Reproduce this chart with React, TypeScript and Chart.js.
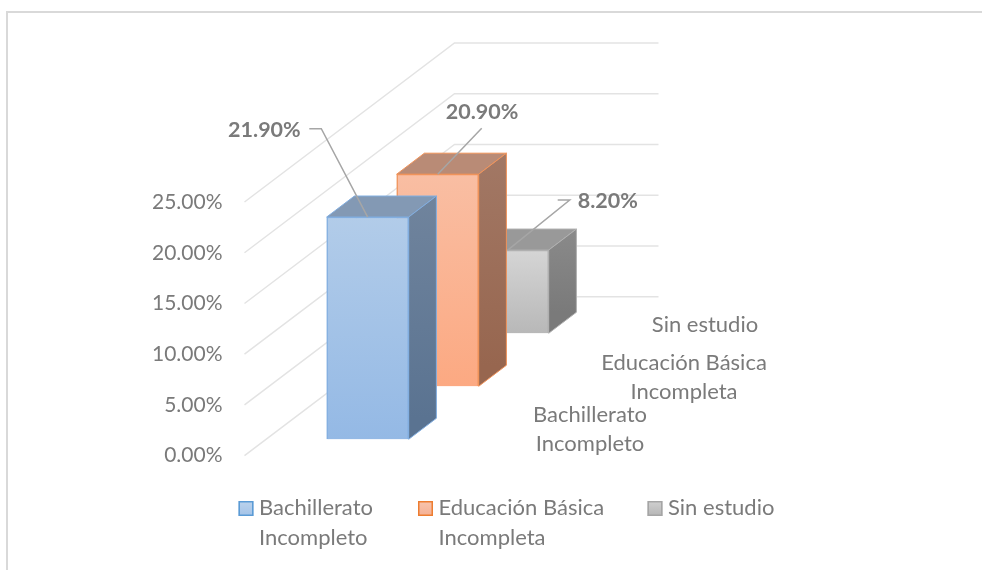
import React, { useEffect, useRef } from "react";
import { Chart, registerables } from "chart.js";

Chart.register(...registerables);

const categories = ["Bachillerato Incompleto", "Educación Básica Incompleta", "Sin estudio"];
const categoryLines = [["Bachillerato", "Incompleto"], ["Educación Básica", "Incompleta"], ["Sin estudio"]];
const values = [21.9, 20.9, 8.2];
const valueLabels = ["21.90%", "20.90%", "8.20%"];
const yMax = 25;
const yStep = 5;

const FONT = "Lato";
const TEXT = "#7a7a7a";
const SIZE = 21;
const LABEL_SIZE = 22;
const BOLD_SIZE = 21.5;

const palette = [
  { front: ["#b2cce9", "#94b9e5"], edge: "#82aee0", top: "#8399b4", side: ["#70849d", "#5a7391"], swatch: ["#bcd3ec", "#a3c3e8"], line: "#5b9bd5" },
  { front: ["#f9bea3", "#fca982"], edge: "#f0935a", top: "#b98b76", side: ["#a27865", "#97664f"], swatch: ["#f8c5ae", "#f5b093"], line: "#ed7d31" },
  { front: ["#d5d5d5", "#b8b8b8"], edge: "#b0b0b0", top: "#999999", side: ["#8a8a8a", "#7a7a7a"], swatch: ["#d0d0d0", "#b5b5b5"], line: "#a5a5a5" },
];

const SLOT_DX = 70;
const SLOT_DY = 53;
const GAP = 0.31;
const DEPTH_DX = 27.7;
const DEPTH_DY = 21;
const BACK_WIDTH = 204;

const leaders = [
  [[-46.4, -88.3], [-58.4, -88.3]],
  [[44, -46]],
  [[62, -50], [50, -50]],
];
const labelAnchors: { dx: number; dy: number; align: CanvasTextAlign }[] = [
  { dx: -67, dy: -86.5, align: "right" },
  { dx: 44.3, dy: -62.5, align: "center" },
  { dx: 70, dy: -48.5, align: "left" },
];
const categoryOffsets = [[107.5, 0], [131.5, 1], [82.5, 2]];
const legendPositions = [238.5, 418, 647.5];

const vgrad = (ctx: CanvasRenderingContext2D, y0: number, y1: number, c: string[]) => {
  const g = ctx.createLinearGradient(0, y0, 0, y1);
  g.addColorStop(0, c[0]);
  g.addColorStop(1, c[1]);
  return g;
};

const depthOf = (i: number) => ({
  dx: (i + GAP) * SLOT_DX,
  dy: -(i + GAP) * SLOT_DY,
});

const box3d = {
  id: "box3d",
  beforeDatasetsDraw(chart: any) {
    const { ctx, chartArea, scales } = chart;
    const ticks = scales.y.getTicks();
    const back = 3;
    ctx.save();
    ctx.strokeStyle = "#e3e3e3";
    ctx.lineWidth = 1.5;
    ticks.forEach((t: any) => {
      const y = scales.y.getPixelForValue(t.value);
      const bx = chartArea.left + back * SLOT_DX;
      const by = y - back * SLOT_DY;
      ctx.beginPath();
      ctx.moveTo(chartArea.left, y);
      ctx.lineTo(bx, by);
      ctx.lineTo(bx + BACK_WIDTH, by);
      ctx.stroke();
    });
    ctx.restore();
  },
  beforeDatasetDraw(chart: any, args: any) {
    const { ctx } = chart;
    const i = args.index;
    const el = args.meta.data[0];
    const { dx, dy } = depthOf(i);
    const p = palette[i];
    ctx.save();
    ctx.translate(dx, dy);
    const l = el.x - el.width / 2;
    const r = el.x + el.width / 2;
    const top = el.y;
    const base = el.base;
    ctx.lineWidth = 1;
    ctx.strokeStyle = p.edge;
    ctx.fillStyle = p.top;
    ctx.beginPath();
    ctx.moveTo(l, top);
    ctx.lineTo(l + DEPTH_DX, top - DEPTH_DY);
    ctx.lineTo(r + DEPTH_DX, top - DEPTH_DY);
    ctx.lineTo(r, top);
    ctx.closePath();
    ctx.fill();
    ctx.stroke();
    ctx.fillStyle = vgrad(ctx, top - DEPTH_DY, base - DEPTH_DY, p.side);
    ctx.beginPath();
    ctx.moveTo(r, top);
    ctx.lineTo(r + DEPTH_DX, top - DEPTH_DY);
    ctx.lineTo(r + DEPTH_DX, base - DEPTH_DY);
    ctx.lineTo(r, base);
    ctx.closePath();
    ctx.fill();
    ctx.stroke();
  },
  afterDatasetDraw(chart: any) {
    chart.ctx.restore();
  },
  afterDatasetsDraw(chart: any) {
    const { ctx, chartArea } = chart;
    ctx.save();
    values.forEach((_, i) => {
      const el = chart.getDatasetMeta(i).data[0];
      const { dx, dy } = depthOf(i);
      const ax = el.x + dx;
      const ay = el.y + dy;
      ctx.strokeStyle = "#a6a6a6";
      ctx.lineWidth = 1.5;
      ctx.beginPath();
      const pts = [...leaders[i]];
      ctx.moveTo(ax, ay);
      pts.forEach((q) => ctx.lineTo(ax + q[0], ay + q[1]));
      ctx.stroke();
      const a = labelAnchors[i];
      ctx.font = `bold ${BOLD_SIZE}px ${FONT}`;
      ctx.fillStyle = TEXT;
      ctx.textAlign = a.align;
      ctx.textBaseline = "middle";
      ctx.fillText(valueLabels[i], ax + a.dx, ay + a.dy);
    });
    ctx.font = `${LABEL_SIZE}px ${FONT}`;
    ctx.fillStyle = TEXT;
    ctx.textBaseline = "middle";
    categoryLines.forEach((lines, i) => {
      const cx = chartArea.right + (i + 0.5) * SLOT_DX + categoryOffsets[i][0];
      const cy = chartArea.bottom - (i + 0.5) * SLOT_DY + categoryOffsets[i][1];
      ctx.textAlign = "center";
      lines.forEach((t, k) => {
        ctx.fillText(t, cx, cy + (k - (lines.length - 1) / 2) * 29.5);
      });
    });
    categoryLines.forEach((lines, i) => {
      const x = legendPositions[i];
      const y = 501;
      const p = palette[i];
      ctx.fillStyle = vgrad(ctx, y, y + 15, p.swatch);
      ctx.fillRect(x, y, 15, 15);
      ctx.strokeStyle = p.line;
      ctx.lineWidth = 1.5;
      ctx.strokeRect(x + 0.75, y + 0.75, 13.5, 13.5);
      ctx.fillStyle = TEXT;
      ctx.textAlign = "left";
      lines.forEach((t, k) => {
        ctx.fillText(t, x + 20.5, 507.5 + k * 30);
      });
    });
    ctx.restore();
  },
};

export default function App() {
  const ref = useRef<HTMLCanvasElement>(null);
  useEffect(() => {
    document.body.style.margin = "0";
    document.body.style.background = "#ffffff";
    const chart = new Chart(ref.current as HTMLCanvasElement, {
      type: "bar",
      data: {
        labels: ["Nivel"],
        datasets: categories.map((label, i) => ({
          label,
          data: [values[i]],
          clip: false,
          barThickness: 82,
          borderWidth: 1.5,
          borderColor: palette[i].edge,
          backgroundColor: (c: any) => {
            const s = c.chart.scales.y;
            if (!s || !Number.isFinite(s.getPixelForValue(values[i]))) return palette[i].front[0];
            return vgrad(c.chart.ctx, s.getPixelForValue(values[i]), s.getPixelForValue(0), palette[i].front);
          },
        })) as any,
      },
      options: {
        responsive: false,
        animation: false,
        layout: { padding: { left: 0, top: 202, right: 534.5, bottom: 114.3 } },
        plugins: { legend: { display: false }, tooltip: { enabled: false } },
        scales: {
          x: { stacked: true, display: false },
          y: {
            min: 0,
            max: yMax,
            border: { display: false },
            grid: { display: false, drawTicks: false },
            afterFit: (s: any) => {
              s.width = 244.5;
            },
            ticks: {
              stepSize: yStep,
              padding: 22,
              color: TEXT,
              font: { family: FONT, size: SIZE },
              callback: (v: any) => Number(v).toFixed(2) + "%",
            },
          },
        },
      },
      plugins: [box3d as any],
    });
    return () => chart.destroy();
  }, []);
  return (
    <div style={{ position: "absolute", left: 0, top: 0, width: 982, height: 570, overflow: "hidden", background: "#fff" }}>
      <div style={{ position: "absolute", left: 6, top: 11, right: 0, bottom: 0, borderTop: "2px solid #d9d9d9", borderLeft: "2px solid #d9d9d9" }} />
      <canvas ref={ref} width={982} height={570} style={{ position: "absolute", left: 0, top: 0, display: "block" }} />
    </div>
  );
}
